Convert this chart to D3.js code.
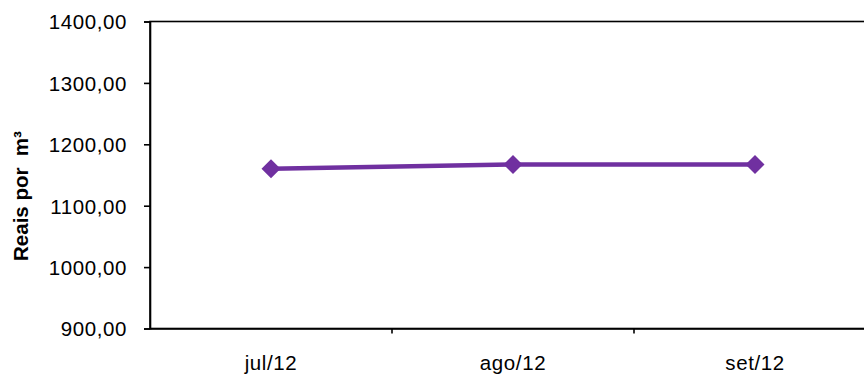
<!DOCTYPE html>
<html>
<head>
<meta charset="utf-8">
<script src="https://cdn.jsdelivr.net/npm/d3@7"></script>
<style>
  html, body { margin: 0; padding: 0; background: #fff; }
  svg { display: block; }
  text { font-family: "Liberation Sans", Arial, sans-serif; fill: #000; }
</style>
</head>
<body>
<svg id="chart" width="864" height="377"></svg>
<script>
// Monthly price, reais per cubic metre
const months = ["jul/12", "ago/12", "set/12"];
const prices = [1160, 1167, 1167];
const yTicks = [900, 1000, 1100, 1200, 1300, 1400];
const yTitle = "Reais por  m³";

const svg = d3.select("#chart");
const plot = { left: 150, top: 21.5, right: 876, bottom: 328.5 };

const x = d3.scaleBand().domain(months).range([plot.left, plot.right]);
const y = d3.scaleLinear().domain([900, 1400]).range([plot.bottom, plot.top]);
const fmt = v => d3.format(".2f")(v).replace(".", ",");

// Plot area frame
svg.append("rect")
  .attr("x", plot.left).attr("y", plot.top)
  .attr("width", plot.right - plot.left).attr("height", plot.bottom - plot.top)
  .attr("fill", "none").attr("stroke", "#000").attr("stroke-width", 1.6);

// Y axis
const yAxis = svg.append("g")
  .attr("transform", `translate(${plot.left},0)`)
  .call(d3.axisLeft(y).tickValues(yTicks).tickSize(6).tickPadding(17).tickFormat(fmt));
yAxis.select(".domain").attr("stroke-width", 1.6);
yAxis.selectAll(".tick line").attr("stroke-width", 1.6);
yAxis.selectAll(".tick text")
  .style("font-family", "'Liberation Sans', Arial, sans-serif")
  .style("font-size", "20.5px").style("letter-spacing", "0.6px")
  .attr("dy", "0.36em");

// X axis: ticks sit on the category boundaries
const xAxis = svg.append("g")
  .attr("transform", `translate(0,${plot.bottom})`)
  .call(d3.axisBottom(x).tickSize(0).tickPadding(0));
xAxis.select(".domain").attr("stroke-width", 1.6);
xAxis.selectAll(".tick text")
  .style("font-family", "'Liberation Sans', Arial, sans-serif")
  .style("font-size", "20.5px").style("letter-spacing", "0.6px")
  .attr("y", 41.5).attr("dy", 0);
xAxis.selectAll(".boundary")
  .data(months.slice(1))
  .join("line")
  .attr("class", "boundary")
  .attr("x1", d => x(d)).attr("x2", d => x(d))
  .attr("y1", 0).attr("y2", 5)
  .attr("stroke", "#000").attr("stroke-width", 1.6);

// Y axis title
svg.append("text")
  .attr("transform", `translate(28,196) rotate(-90)`)
  .attr("text-anchor", "middle")
  .style("font-size", "20.5px").style("font-weight", "bold")
  .style("white-space", "pre")
  .text(yTitle);

// Series line and diamond markers
const cx = d => x(d) + x.bandwidth() / 2;
const pts = months.map((m, i) => [cx(m), y(prices[i])]);
svg.append("path")
  .attr("d", d3.line()(pts))
  .attr("fill", "none").attr("stroke", "#7030A0").attr("stroke-width", 4.5);

svg.selectAll(".marker")
  .data(pts)
  .join("path")
  .attr("class", "marker")
  .attr("transform", d => `translate(${d[0]},${d[1]})`)
  .attr("d", d3.symbol(d3.symbolDiamond2, 230)())
  .attr("fill", "#7030A0");
</script>
</body>
</html>
